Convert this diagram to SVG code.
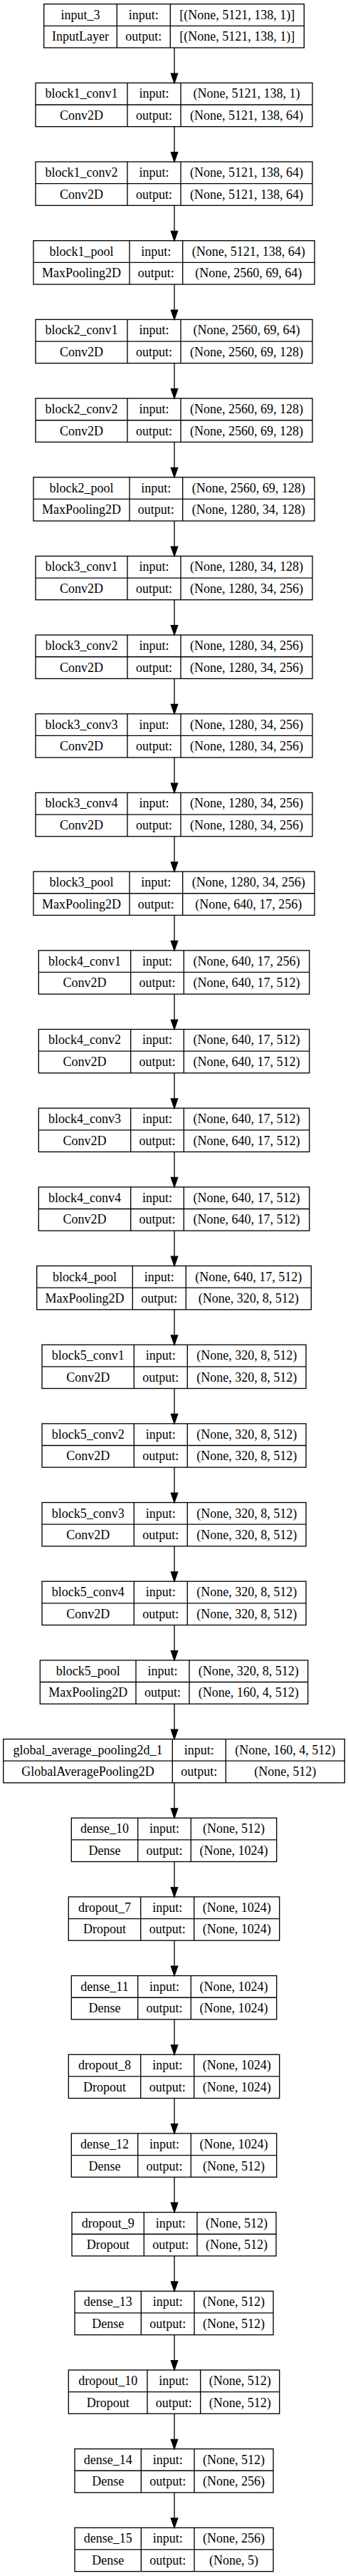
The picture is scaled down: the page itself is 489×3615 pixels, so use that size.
<svg xmlns="http://www.w3.org/2000/svg" width="489" height="3615" viewBox="0 0 489 3615">
<style>
.b{fill:none;stroke:#000;stroke-width:1.33}
.t{font-family:"Liberation Serif","Times New Roman",serif;font-size:18px;text-anchor:middle;fill:#000}
.e{fill:none;stroke:#000;stroke-width:1.33}
</style>
<defs>
<marker id="ah" markerUnits="userSpaceOnUse" markerWidth="16" markerHeight="14" refX="1" refY="7" orient="auto" overflow="visible">
<path d="M1,2.33 L14.33,7 L1,11.67 Z" fill="#000" stroke="#000" stroke-width="1.33"/>
</marker>
</defs>
<rect width="489" height="3615" fill="#fff"/>
<g id="nodes">
<g id="input_3" transform="translate(0,5.7)"><rect class="b" x="61.7" y="0" width="365.6" height="61.3"/><path class="b" d="M61.7 30.65H427.3M164.3 0V61.3M239.3 0V61.3"/><text class="t" x="113" y="21">input_3</text><text class="t" x="201.8" y="21">input:</text><text class="t" x="333.3" y="21">[(None, 5121, 138, 1)]</text><text class="t" x="113" y="51.6">InputLayer</text><text class="t" x="201.8" y="51.6">output:</text><text class="t" x="333.3" y="51.6">[(None, 5121, 138, 1)]</text></g>
<g id="block1_conv1" transform="translate(0,116.38)"><rect class="b" x="50" y="0" width="389" height="61.3"/><path class="b" d="M50 30.65H439M179 0V61.3M254 0V61.3"/><text class="t" x="114.5" y="21">block1_conv1</text><text class="t" x="216.5" y="21">input:</text><text class="t" x="346.5" y="21">(None, 5121, 138, 1)</text><text class="t" x="114.5" y="51.6">Conv2D</text><text class="t" x="216.5" y="51.6">output:</text><text class="t" x="346.5" y="51.6">(None, 5121, 138, 64)</text></g>
<g id="block1_conv2" transform="translate(0,227.05)"><rect class="b" x="50" y="0" width="389" height="61.3"/><path class="b" d="M50 30.65H439M179 0V61.3M254 0V61.3"/><text class="t" x="114.5" y="21">block1_conv2</text><text class="t" x="216.5" y="21">input:</text><text class="t" x="346.5" y="21">(None, 5121, 138, 64)</text><text class="t" x="114.5" y="51.6">Conv2D</text><text class="t" x="216.5" y="51.6">output:</text><text class="t" x="346.5" y="51.6">(None, 5121, 138, 64)</text></g>
<g id="block1_pool" transform="translate(0,337.73)"><rect class="b" x="47" y="0" width="395" height="61.3"/><path class="b" d="M47 30.65H442M182 0V61.3M256.7 0V61.3"/><text class="t" x="114.5" y="21">block1_pool</text><text class="t" x="219.35" y="21">input:</text><text class="t" x="349.35" y="21">(None, 5121, 138, 64)</text><text class="t" x="114.5" y="51.6">MaxPooling2D</text><text class="t" x="219.35" y="51.6">output:</text><text class="t" x="349.35" y="51.6">(None, 2560, 69, 64)</text></g>
<g id="block2_conv1" transform="translate(0,448.4)"><rect class="b" x="50" y="0" width="389" height="61.3"/><path class="b" d="M50 30.65H439M179 0V61.3M254 0V61.3"/><text class="t" x="114.5" y="21">block2_conv1</text><text class="t" x="216.5" y="21">input:</text><text class="t" x="346.5" y="21">(None, 2560, 69, 64)</text><text class="t" x="114.5" y="51.6">Conv2D</text><text class="t" x="216.5" y="51.6">output:</text><text class="t" x="346.5" y="51.6">(None, 2560, 69, 128)</text></g>
<g id="block2_conv2" transform="translate(0,559.08)"><rect class="b" x="50" y="0" width="389" height="61.3"/><path class="b" d="M50 30.65H439M179 0V61.3M254 0V61.3"/><text class="t" x="114.5" y="21">block2_conv2</text><text class="t" x="216.5" y="21">input:</text><text class="t" x="346.5" y="21">(None, 2560, 69, 128)</text><text class="t" x="114.5" y="51.6">Conv2D</text><text class="t" x="216.5" y="51.6">output:</text><text class="t" x="346.5" y="51.6">(None, 2560, 69, 128)</text></g>
<g id="block2_pool" transform="translate(0,669.75)"><rect class="b" x="47" y="0" width="395" height="61.3"/><path class="b" d="M47 30.65H442M182 0V61.3M256.7 0V61.3"/><text class="t" x="114.5" y="21">block2_pool</text><text class="t" x="219.35" y="21">input:</text><text class="t" x="349.35" y="21">(None, 2560, 69, 128)</text><text class="t" x="114.5" y="51.6">MaxPooling2D</text><text class="t" x="219.35" y="51.6">output:</text><text class="t" x="349.35" y="51.6">(None, 1280, 34, 128)</text></g>
<g id="block3_conv1" transform="translate(0,780.43)"><rect class="b" x="50" y="0" width="389" height="61.3"/><path class="b" d="M50 30.65H439M179 0V61.3M254 0V61.3"/><text class="t" x="114.5" y="21">block3_conv1</text><text class="t" x="216.5" y="21">input:</text><text class="t" x="346.5" y="21">(None, 1280, 34, 128)</text><text class="t" x="114.5" y="51.6">Conv2D</text><text class="t" x="216.5" y="51.6">output:</text><text class="t" x="346.5" y="51.6">(None, 1280, 34, 256)</text></g>
<g id="block3_conv2" transform="translate(0,891.1)"><rect class="b" x="50" y="0" width="389" height="61.3"/><path class="b" d="M50 30.65H439M179 0V61.3M254 0V61.3"/><text class="t" x="114.5" y="21">block3_conv2</text><text class="t" x="216.5" y="21">input:</text><text class="t" x="346.5" y="21">(None, 1280, 34, 256)</text><text class="t" x="114.5" y="51.6">Conv2D</text><text class="t" x="216.5" y="51.6">output:</text><text class="t" x="346.5" y="51.6">(None, 1280, 34, 256)</text></g>
<g id="block3_conv3" transform="translate(0,1001.78)"><rect class="b" x="50" y="0" width="389" height="61.3"/><path class="b" d="M50 30.65H439M179 0V61.3M254 0V61.3"/><text class="t" x="114.5" y="21">block3_conv3</text><text class="t" x="216.5" y="21">input:</text><text class="t" x="346.5" y="21">(None, 1280, 34, 256)</text><text class="t" x="114.5" y="51.6">Conv2D</text><text class="t" x="216.5" y="51.6">output:</text><text class="t" x="346.5" y="51.6">(None, 1280, 34, 256)</text></g>
<g id="block3_conv4" transform="translate(0,1112.45)"><rect class="b" x="50" y="0" width="389" height="61.3"/><path class="b" d="M50 30.65H439M179 0V61.3M254 0V61.3"/><text class="t" x="114.5" y="21">block3_conv4</text><text class="t" x="216.5" y="21">input:</text><text class="t" x="346.5" y="21">(None, 1280, 34, 256)</text><text class="t" x="114.5" y="51.6">Conv2D</text><text class="t" x="216.5" y="51.6">output:</text><text class="t" x="346.5" y="51.6">(None, 1280, 34, 256)</text></g>
<g id="block3_pool" transform="translate(0,1223.13)"><rect class="b" x="47" y="0" width="395" height="61.3"/><path class="b" d="M47 30.65H442M182 0V61.3M256.7 0V61.3"/><text class="t" x="114.5" y="21">block3_pool</text><text class="t" x="219.35" y="21">input:</text><text class="t" x="349.35" y="21">(None, 1280, 34, 256)</text><text class="t" x="114.5" y="51.6">MaxPooling2D</text><text class="t" x="219.35" y="51.6">output:</text><text class="t" x="349.35" y="51.6">(None, 640, 17, 256)</text></g>
<g id="block4_conv1" transform="translate(0,1333.8)"><rect class="b" x="54.3" y="0" width="380.4" height="61.3"/><path class="b" d="M54.3 30.65H434.7M183.7 0V61.3M258.3 0V61.3"/><text class="t" x="119" y="21">block4_conv1</text><text class="t" x="221" y="21">input:</text><text class="t" x="346.5" y="21">(None, 640, 17, 256)</text><text class="t" x="119" y="51.6">Conv2D</text><text class="t" x="221" y="51.6">output:</text><text class="t" x="346.5" y="51.6">(None, 640, 17, 512)</text></g>
<g id="block4_conv2" transform="translate(0,1444.48)"><rect class="b" x="54.3" y="0" width="380.4" height="61.3"/><path class="b" d="M54.3 30.65H434.7M183.7 0V61.3M258.3 0V61.3"/><text class="t" x="119" y="21">block4_conv2</text><text class="t" x="221" y="21">input:</text><text class="t" x="346.5" y="21">(None, 640, 17, 512)</text><text class="t" x="119" y="51.6">Conv2D</text><text class="t" x="221" y="51.6">output:</text><text class="t" x="346.5" y="51.6">(None, 640, 17, 512)</text></g>
<g id="block4_conv3" transform="translate(0,1555.15)"><rect class="b" x="54.3" y="0" width="380.4" height="61.3"/><path class="b" d="M54.3 30.65H434.7M183.7 0V61.3M258.3 0V61.3"/><text class="t" x="119" y="21">block4_conv3</text><text class="t" x="221" y="21">input:</text><text class="t" x="346.5" y="21">(None, 640, 17, 512)</text><text class="t" x="119" y="51.6">Conv2D</text><text class="t" x="221" y="51.6">output:</text><text class="t" x="346.5" y="51.6">(None, 640, 17, 512)</text></g>
<g id="block4_conv4" transform="translate(0,1665.83)"><rect class="b" x="54.3" y="0" width="380.4" height="61.3"/><path class="b" d="M54.3 30.65H434.7M183.7 0V61.3M258.3 0V61.3"/><text class="t" x="119" y="21">block4_conv4</text><text class="t" x="221" y="21">input:</text><text class="t" x="346.5" y="21">(None, 640, 17, 512)</text><text class="t" x="119" y="51.6">Conv2D</text><text class="t" x="221" y="51.6">output:</text><text class="t" x="346.5" y="51.6">(None, 640, 17, 512)</text></g>
<g id="block4_pool" transform="translate(0,1776.5)"><rect class="b" x="51.7" y="0" width="385.6" height="61.3"/><path class="b" d="M51.7 30.65H437.3M186.3 0V61.3M261.3 0V61.3"/><text class="t" x="119" y="21">block4_pool</text><text class="t" x="223.8" y="21">input:</text><text class="t" x="349.3" y="21">(None, 640, 17, 512)</text><text class="t" x="119" y="51.6">MaxPooling2D</text><text class="t" x="223.8" y="51.6">output:</text><text class="t" x="349.3" y="51.6">(None, 320, 8, 512)</text></g>
<g id="block5_conv1" transform="translate(0,1887.18)"><rect class="b" x="59" y="0" width="371" height="61.3"/><path class="b" d="M59 30.65H430M188.3 0V61.3M263.3 0V61.3"/><text class="t" x="123.65" y="21">block5_conv1</text><text class="t" x="225.8" y="21">input:</text><text class="t" x="346.65" y="21">(None, 320, 8, 512)</text><text class="t" x="123.65" y="51.6">Conv2D</text><text class="t" x="225.8" y="51.6">output:</text><text class="t" x="346.65" y="51.6">(None, 320, 8, 512)</text></g>
<g id="block5_conv2" transform="translate(0,1997.85)"><rect class="b" x="59" y="0" width="371" height="61.3"/><path class="b" d="M59 30.65H430M188.3 0V61.3M263.3 0V61.3"/><text class="t" x="123.65" y="21">block5_conv2</text><text class="t" x="225.8" y="21">input:</text><text class="t" x="346.65" y="21">(None, 320, 8, 512)</text><text class="t" x="123.65" y="51.6">Conv2D</text><text class="t" x="225.8" y="51.6">output:</text><text class="t" x="346.65" y="51.6">(None, 320, 8, 512)</text></g>
<g id="block5_conv3" transform="translate(0,2108.53)"><rect class="b" x="59" y="0" width="371" height="61.3"/><path class="b" d="M59 30.65H430M188.3 0V61.3M263.3 0V61.3"/><text class="t" x="123.65" y="21">block5_conv3</text><text class="t" x="225.8" y="21">input:</text><text class="t" x="346.65" y="21">(None, 320, 8, 512)</text><text class="t" x="123.65" y="51.6">Conv2D</text><text class="t" x="225.8" y="51.6">output:</text><text class="t" x="346.65" y="51.6">(None, 320, 8, 512)</text></g>
<g id="block5_conv4" transform="translate(0,2219.2)"><rect class="b" x="59" y="0" width="371" height="61.3"/><path class="b" d="M59 30.65H430M188.3 0V61.3M263.3 0V61.3"/><text class="t" x="123.65" y="21">block5_conv4</text><text class="t" x="225.8" y="21">input:</text><text class="t" x="346.65" y="21">(None, 320, 8, 512)</text><text class="t" x="123.65" y="51.6">Conv2D</text><text class="t" x="225.8" y="51.6">output:</text><text class="t" x="346.65" y="51.6">(None, 320, 8, 512)</text></g>
<g id="block5_pool" transform="translate(0,2329.88)"><rect class="b" x="56.3" y="0" width="376.4" height="61.3"/><path class="b" d="M56.3 30.65H432.7M191 0V61.3M266 0V61.3"/><text class="t" x="123.65" y="21">block5_pool</text><text class="t" x="228.5" y="21">input:</text><text class="t" x="349.35" y="21">(None, 320, 8, 512)</text><text class="t" x="123.65" y="51.6">MaxPooling2D</text><text class="t" x="228.5" y="51.6">output:</text><text class="t" x="349.35" y="51.6">(None, 160, 4, 512)</text></g>
<g id="global_average_pooling2d_1" transform="translate(0,2440.55)"><rect class="b" x="4.7" y="0" width="479.6" height="61.3"/><path class="b" d="M4.7 30.65H484.3M242.3 0V61.3M317.3 0V61.3"/><text class="t" x="123.5" y="21">global_average_pooling2d_1</text><text class="t" x="279.8" y="21">input:</text><text class="t" x="400.8" y="21">(None, 160, 4, 512)</text><text class="t" x="123.5" y="51.6">GlobalAveragePooling2D</text><text class="t" x="279.8" y="51.6">output:</text><text class="t" x="400.8" y="51.6">(None, 512)</text></g>
<g id="dense_10" transform="translate(0,2551.23)"><rect class="b" x="100.3" y="0" width="288.4" height="61.3"/><path class="b" d="M100.3 30.65H388.7M193.7 0V61.3M268.3 0V61.3"/><text class="t" x="147" y="21">dense_10</text><text class="t" x="231" y="21">input:</text><text class="t" x="328.5" y="21">(None, 512)</text><text class="t" x="147" y="51.6">Dense</text><text class="t" x="231" y="51.6">output:</text><text class="t" x="328.5" y="51.6">(None, 1024)</text></g>
<g id="dropout_7" transform="translate(0,2661.9)"><rect class="b" x="96.3" y="0" width="296.4" height="61.3"/><path class="b" d="M96.3 30.65H392.7M197.7 0V61.3M272.7 0V61.3"/><text class="t" x="147" y="21">dropout_7</text><text class="t" x="235.2" y="21">input:</text><text class="t" x="332.7" y="21">(None, 1024)</text><text class="t" x="147" y="51.6">Dropout</text><text class="t" x="235.2" y="51.6">output:</text><text class="t" x="332.7" y="51.6">(None, 1024)</text></g>
<g id="dense_11" transform="translate(0,2772.58)"><rect class="b" x="100.3" y="0" width="288.4" height="61.3"/><path class="b" d="M100.3 30.65H388.7M193.7 0V61.3M268.3 0V61.3"/><text class="t" x="147" y="21">dense_11</text><text class="t" x="231" y="21">input:</text><text class="t" x="328.5" y="21">(None, 1024)</text><text class="t" x="147" y="51.6">Dense</text><text class="t" x="231" y="51.6">output:</text><text class="t" x="328.5" y="51.6">(None, 1024)</text></g>
<g id="dropout_8" transform="translate(0,2883.25)"><rect class="b" x="96.3" y="0" width="296.4" height="61.3"/><path class="b" d="M96.3 30.65H392.7M197.7 0V61.3M272.7 0V61.3"/><text class="t" x="147" y="21">dropout_8</text><text class="t" x="235.2" y="21">input:</text><text class="t" x="332.7" y="21">(None, 1024)</text><text class="t" x="147" y="51.6">Dropout</text><text class="t" x="235.2" y="51.6">output:</text><text class="t" x="332.7" y="51.6">(None, 1024)</text></g>
<g id="dense_12" transform="translate(0,2993.93)"><rect class="b" x="100.3" y="0" width="288.4" height="61.3"/><path class="b" d="M100.3 30.65H388.7M193.7 0V61.3M268.3 0V61.3"/><text class="t" x="147" y="21">dense_12</text><text class="t" x="231" y="21">input:</text><text class="t" x="328.5" y="21">(None, 1024)</text><text class="t" x="147" y="51.6">Dense</text><text class="t" x="231" y="51.6">output:</text><text class="t" x="328.5" y="51.6">(None, 512)</text></g>
<g id="dropout_9" transform="translate(0,3104.6)"><rect class="b" x="101" y="0" width="287" height="61.3"/><path class="b" d="M101 30.65H388M202.3 0V61.3M277 0V61.3"/><text class="t" x="151.65" y="21">dropout_9</text><text class="t" x="239.65" y="21">input:</text><text class="t" x="332.5" y="21">(None, 512)</text><text class="t" x="151.65" y="51.6">Dropout</text><text class="t" x="239.65" y="51.6">output:</text><text class="t" x="332.5" y="51.6">(None, 512)</text></g>
<g id="dense_13" transform="translate(0,3215.28)"><rect class="b" x="105" y="0" width="279" height="61.3"/><path class="b" d="M105 30.65H384M198.3 0V61.3M273 0V61.3"/><text class="t" x="151.65" y="21">dense_13</text><text class="t" x="235.65" y="21">input:</text><text class="t" x="328.5" y="21">(None, 512)</text><text class="t" x="151.65" y="51.6">Dense</text><text class="t" x="235.65" y="51.6">output:</text><text class="t" x="328.5" y="51.6">(None, 512)</text></g>
<g id="dropout_10" transform="translate(0,3325.95)"><rect class="b" x="96.3" y="0" width="296.4" height="61.3"/><path class="b" d="M96.3 30.65H392.7M207 0V61.3M281.7 0V61.3"/><text class="t" x="151.65" y="21">dropout_10</text><text class="t" x="244.35" y="21">input:</text><text class="t" x="337.2" y="21">(None, 512)</text><text class="t" x="151.65" y="51.6">Dropout</text><text class="t" x="244.35" y="51.6">output:</text><text class="t" x="337.2" y="51.6">(None, 512)</text></g>
<g id="dense_14" transform="translate(0,3436.63)"><rect class="b" x="105" y="0" width="279" height="61.3"/><path class="b" d="M105 30.65H384M198.3 0V61.3M273 0V61.3"/><text class="t" x="151.65" y="21">dense_14</text><text class="t" x="235.65" y="21">input:</text><text class="t" x="328.5" y="21">(None, 512)</text><text class="t" x="151.65" y="51.6">Dense</text><text class="t" x="235.65" y="51.6">output:</text><text class="t" x="328.5" y="51.6">(None, 256)</text></g>
<g id="dense_15" transform="translate(0,3547.3)"><rect class="b" x="105" y="0" width="279" height="61.3"/><path class="b" d="M105 30.65H384M198.3 0V61.3M273 0V61.3"/><text class="t" x="151.65" y="21">dense_15</text><text class="t" x="235.65" y="21">input:</text><text class="t" x="328.5" y="21">(None, 256)</text><text class="t" x="151.65" y="51.6">Dense</text><text class="t" x="235.65" y="51.6">output:</text><text class="t" x="328.5" y="51.6">(None, 5)</text></g>
</g>
<g id="connectors" marker-end="url(#ah)">
<path class="e" marker-end="url(#ah)" d="M245 67V103.05"/>
<path class="e" marker-end="url(#ah)" d="M245 177.68V213.72"/>
<path class="e" marker-end="url(#ah)" d="M245 288.35V324.4"/>
<path class="e" marker-end="url(#ah)" d="M245 399.03V435.07"/>
<path class="e" marker-end="url(#ah)" d="M245 509.7V545.75"/>
<path class="e" marker-end="url(#ah)" d="M245 620.38V656.42"/>
<path class="e" marker-end="url(#ah)" d="M245 731.05V767.1"/>
<path class="e" marker-end="url(#ah)" d="M245 841.73V877.77"/>
<path class="e" marker-end="url(#ah)" d="M245 952.4V988.45"/>
<path class="e" marker-end="url(#ah)" d="M245 1063.08V1099.12"/>
<path class="e" marker-end="url(#ah)" d="M245 1173.75V1209.8"/>
<path class="e" marker-end="url(#ah)" d="M245 1284.43V1320.47"/>
<path class="e" marker-end="url(#ah)" d="M245 1395.1V1431.15"/>
<path class="e" marker-end="url(#ah)" d="M245 1505.78V1541.82"/>
<path class="e" marker-end="url(#ah)" d="M245 1616.45V1652.5"/>
<path class="e" marker-end="url(#ah)" d="M245 1727.13V1763.17"/>
<path class="e" marker-end="url(#ah)" d="M245 1837.8V1873.85"/>
<path class="e" marker-end="url(#ah)" d="M245 1948.48V1984.52"/>
<path class="e" marker-end="url(#ah)" d="M245 2059.15V2095.2"/>
<path class="e" marker-end="url(#ah)" d="M245 2169.83V2205.87"/>
<path class="e" marker-end="url(#ah)" d="M245 2280.5V2316.55"/>
<path class="e" marker-end="url(#ah)" d="M245 2391.18V2427.22"/>
<path class="e" marker-end="url(#ah)" d="M245 2501.85V2537.9"/>
<path class="e" marker-end="url(#ah)" d="M245 2612.53V2648.57"/>
<path class="e" marker-end="url(#ah)" d="M245 2723.2V2759.25"/>
<path class="e" marker-end="url(#ah)" d="M245 2833.88V2869.92"/>
<path class="e" marker-end="url(#ah)" d="M245 2944.55V2980.6"/>
<path class="e" marker-end="url(#ah)" d="M245 3055.23V3091.27"/>
<path class="e" marker-end="url(#ah)" d="M245 3165.9V3201.95"/>
<path class="e" marker-end="url(#ah)" d="M245 3276.58V3312.62"/>
<path class="e" marker-end="url(#ah)" d="M245 3387.25V3423.3"/>
<path class="e" marker-end="url(#ah)" d="M245 3497.93V3533.97"/>
</g>
</svg>
